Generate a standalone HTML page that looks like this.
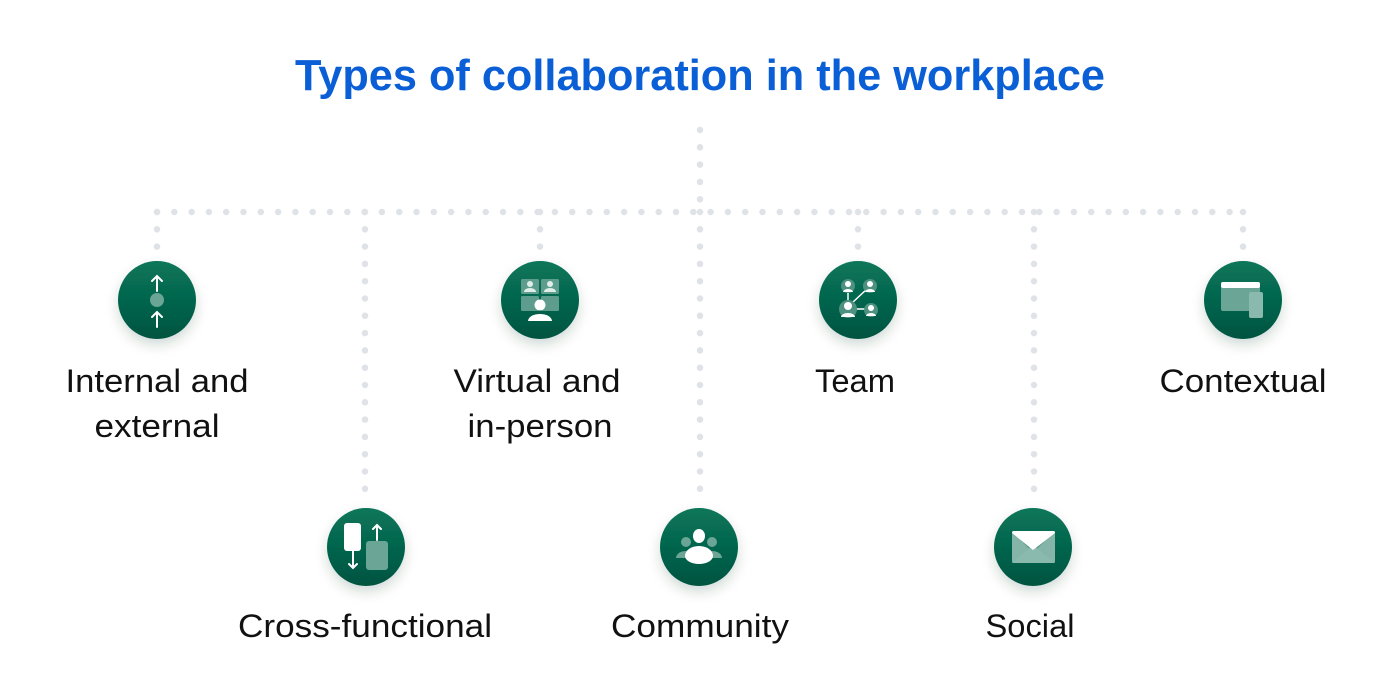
<!DOCTYPE html>
<html><head><meta charset="utf-8"><style>
html,body{margin:0;padding:0;background:#fff;}
svg{display:block;}
text{font-family:"Liberation Sans",sans-serif;}
</style></head><body>
<svg width="1400" height="692" viewBox="0 0 1400 692" xmlns="http://www.w3.org/2000/svg">
<defs>
<linearGradient id="g" x1="0" y1="0" x2="0" y2="1">
<stop offset="0" stop-color="#08765a"/><stop offset="1" stop-color="#035440"/>
</linearGradient>
<filter id="sh" x="-50%" y="-50%" width="200%" height="200%">
<feDropShadow dx="0" dy="6" stdDeviation="6" flood-color="#0a3a2c" flood-opacity="0.18"/>
</filter>
</defs>
<text x="700" y="90" text-anchor="middle" font-size="44" font-weight="bold" fill="#0a5fd6" textLength="810" lengthAdjust="spacingAndGlyphs">Types of collaboration in the workplace</text>
<g stroke="#dfe2e7" stroke-width="6.5" stroke-linecap="round" stroke-dasharray="0 17.3" fill="none">
<line x1="700" y1="130" x2="700" y2="212"/>
<line x1="157" y1="212" x2="1243" y2="212"/>
<line x1="157" y1="212" x2="157" y2="262"/>
<line x1="365" y1="212" x2="365" y2="500"/>
<line x1="540" y1="212" x2="540" y2="262"/>
<line x1="700" y1="212" x2="700" y2="500"/>
<line x1="858" y1="212" x2="858" y2="262"/>
<line x1="1034" y1="212" x2="1034" y2="500"/>
<line x1="1243" y1="212" x2="1243" y2="262"/>
</g>
<g fill="url(#g)" filter="url(#sh)">
<circle cx="157" cy="300" r="39"/><circle cx="540" cy="300" r="39"/><circle cx="858" cy="300" r="39"/><circle cx="1243" cy="300" r="39"/>
<circle cx="366" cy="547" r="39"/><circle cx="699" cy="547" r="39"/><circle cx="1033" cy="547" r="39"/>
</g>
<!-- icon 1 -->
<g stroke="#fff" stroke-width="2" fill="none" stroke-linecap="round">
<path d="M157 291V276M152 281l5-5 5 5"/><path d="M157 327V312M152 317l5-5 5 5"/>
</g>
<circle cx="157" cy="300" r="7" fill="#6aa596"/>
<!-- icon 2 virtual -->
<g fill="#5e9d8d"><rect x="521" y="279" width="18" height="15" rx="1.5"/><rect x="541" y="279" width="18" height="15" rx="1.5"/><rect x="521" y="296" width="18" height="15" rx="1.5"/><rect x="541" y="296" width="18" height="15" rx="1.5"/></g>
<g fill="#dfeee9"><circle cx="530" cy="284" r="3"/><circle cx="550" cy="284" r="3"/><path d="M524 292a6 4 0 0 1 12 0z"/><path d="M544 292a6 4 0 0 1 12 0z"/></g>
<circle cx="540" cy="305" r="5.5" fill="#fff"/><path d="M528 321a12 7 0 0 1 24 0z" fill="#fff"/>
<!-- icon 3 team -->
<g stroke="#fff" stroke-width="1.5"><line x1="848" y1="290" x2="848" y2="305"/><line x1="852" y1="303" x2="868" y2="288"/><line x1="853" y1="309" x2="870" y2="309"/></g>
<g fill="#4e9180"><circle cx="848" cy="286" r="7"/><circle cx="870" cy="286" r="7"/><circle cx="848" cy="309" r="9"/><circle cx="871" cy="310" r="7"/></g>
<g fill="#fff"><circle cx="848" cy="284" r="3"/><path d="M843 292a5 3 0 0 1 10 0z"/><circle cx="870" cy="284" r="3"/><path d="M865 292a5 3 0 0 1 10 0z"/><circle cx="848" cy="306" r="4"/><path d="M841 317a7 4 0 0 1 14 0z"/><circle cx="871" cy="308" r="3"/><path d="M866 316a5 3 0 0 1 10 0z"/></g>
<!-- icon 4 contextual -->
<rect x="1221" y="282" width="39" height="29" rx="2" fill="#6aa596"/><rect x="1221" y="282" width="39" height="6" rx="2" fill="#fff"/>
<rect x="1249" y="292" width="14" height="26" rx="2" fill="#8ab9ad"/>
<!-- icon 5 cross -->
<rect x="366" y="541" width="22" height="29" rx="3" fill="#6aa596"/>
<rect x="344" y="523" width="17" height="28" rx="3" fill="#fff"/>
<g stroke="#fff" stroke-width="2" fill="none" stroke-linecap="round"><path d="M353 551V568M349 564l4 4 4-4"/><path d="M377 540V525M373 529l4-4 4 4"/></g>
<!-- icon 6 community -->
<g fill="#6aa596"><circle cx="686" cy="542" r="5"/><circle cx="712" cy="542" r="5"/><path d="M676 558a10 7 0 0 1 20 0z"/><path d="M702 558a10 7 0 0 1 20 0z"/></g>
<ellipse cx="699" cy="536" rx="6" ry="7" fill="#fff"/><path d="M685 556a14 10 0 0 1 28 0a14 8 0 0 1 -28 0z" fill="#fff"/>
<!-- icon 7 social -->
<rect x="1012" y="531" width="43" height="32" rx="2" fill="#85b5a8"/>
<path d="M1012 531l21 22 22-22z" fill="#5a9a8a"/><path d="M1012 563l21-18 22 18z" fill="#8ab9ad"/>
<path d="M1012 533a2 2 0 0 1 2-2h39a2 2 0 0 1 2 2l-22 17z" fill="#fff"/>
<g font-size="32" fill="#111" text-anchor="middle">
<text x="157" y="392" textLength="183" lengthAdjust="spacingAndGlyphs">Internal and</text>
<text x="157" y="437" textLength="125" lengthAdjust="spacingAndGlyphs">external</text>
<text x="537" y="392" textLength="167" lengthAdjust="spacingAndGlyphs">Virtual and</text>
<text x="540" y="437" textLength="145" lengthAdjust="spacingAndGlyphs">in-person</text>
<text x="855" y="392" textLength="80" lengthAdjust="spacingAndGlyphs">Team</text>
<text x="1243" y="392" textLength="167" lengthAdjust="spacingAndGlyphs">Contextual</text>
<text x="365" y="637" textLength="254" lengthAdjust="spacingAndGlyphs">Cross-functional</text>
<text x="700" y="637" textLength="178" lengthAdjust="spacingAndGlyphs">Community</text>
<text x="1030" y="637" textLength="89" lengthAdjust="spacingAndGlyphs">Social</text>
</g>
</svg>
</body></html>
